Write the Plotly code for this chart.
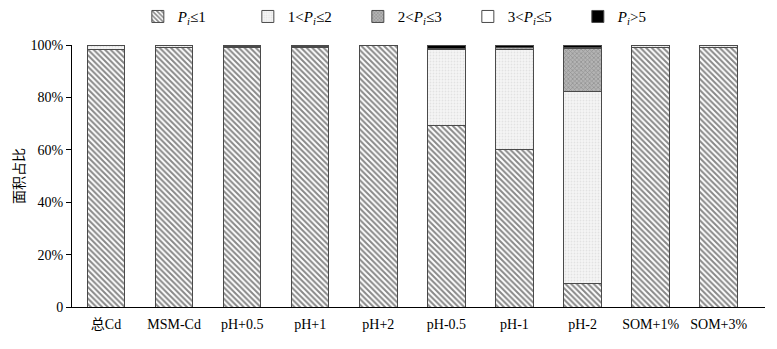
import plotly.graph_objects as go

categories = ["总Cd", "MSM-Cd", "pH+0.5", "pH+1", "pH+2", "pH-0.5", "pH-1", "pH-2", "SOM+1%", "SOM+3%"]
p_le1 = [98.2, 99.0, 99.0, 99.0, 99.8, 69.2, 60.0, 9.1, 99.0, 99.0]
p_1_2 = [1.8, 0.8, 0.6, 0.6, 0.2, 29.2, 38.3, 73.0, 0.8, 0.8]
p_2_3 = [0.0, 0.2, 0.2, 0.2, 0.0, 0.0, 0.6, 16.5, 0.2, 0.2]
p_3_5 = [0.0, 0.0, 0.0, 0.0, 0.0, 0.2, 0.0, 0.6, 0.0, 0.0]
p_gt5 = [0.0, 0.0, 0.2, 0.2, 0.0, 1.4, 1.1, 0.8, 0.0, 0.0]

series_names = [
    "<i>P</i><sub><i>i</i></sub>≤1",
    "1&lt;<i>P</i><sub><i>i</i></sub>≤2",
    "2&lt;<i>P</i><sub><i>i</i></sub>≤3",
    "3&lt;<i>P</i><sub><i>i</i></sub>≤5",
    "<i>P</i><sub><i>i</i></sub>&gt;5",
]
tick_vals = [0, 20, 40, 60, 80, 100]
tick_text = ["0", "20%", "40%", "60%", "80%", "100%"]

FONT = "Liberation Serif, Times New Roman, Noto Sans CJK SC, serif"

styles = [
    dict(color="white", pattern=dict(shape="\\", fgcolor="#111111", bgcolor="white", size=4, solidity=0.5)),
    dict(color="#f3f3f3", pattern=dict(shape=".", fgcolor="#cfcfcf", bgcolor="#f5f5f5", size=3, solidity=0.3)),
    dict(color="#9a9a9a", pattern=dict(shape="x", fgcolor="#6a6a6a", bgcolor="#b4b4b4", size=3, solidity=0.4)),
    dict(color="white"),
    dict(color="black"),
]

fig = go.Figure()
for name, vals, st in zip(series_names, [p_le1, p_1_2, p_2_3, p_3_5, p_gt5], styles):
    fig.add_trace(go.Bar(
        x=categories, y=vals, name=name, width=0.55,
        marker=dict(**st, line=dict(color="#4a4a4a", width=1)),
    ))

fig.update_layout(
    barmode="stack",
    width=777, height=349,
    margin=dict(l=64, r=20, t=37, b=50, autoexpand=False),
    paper_bgcolor="white", plot_bgcolor="white",
    font=dict(family=FONT, size=14, color="black"),
    legend=dict(orientation="h", x=0.095, xanchor="left", y=1.045, yanchor="bottom",
                font=dict(family=FONT, size=15), entrywidth=65, entrywidthmode="pixels",
                itemwidth=30, traceorder="normal"),
    bargap=0.45,
)
fig.update_xaxes(range=[-0.5, 9.68], showline=True, linecolor="black", linewidth=1,
                 ticks="", showgrid=False, tickfont=dict(size=14), ticklabelstandoff=4)
fig.update_yaxes(range=[0, 100], tickvals=tick_vals, ticktext=tick_text, showline=True,
                 linecolor="black", linewidth=1, ticks="outside", ticklen=5, tickcolor="black",
                 showgrid=False, zeroline=False, tickfont=dict(size=14),
                 title=dict(text="面积占比", font=dict(family="Noto Sans CJK SC", size=14), standoff=4))

fig.write_html("out.html")
